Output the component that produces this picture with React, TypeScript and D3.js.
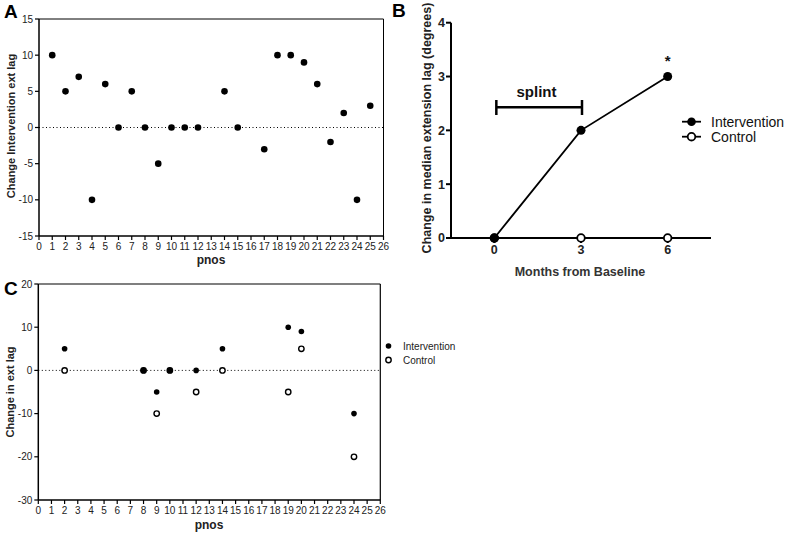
import React from "react";
import * as d3 from "d3";

// Panel A data
const aPnos = [1, 2, 3, 4, 5, 6, 7, 8, 9, 10, 11, 12, 14, 15, 17, 18, 19, 20, 21, 22, 23, 24, 25];
const aChange = [10, 5, 7, -10, 6, 0, 5, 0, -5, 0, 0, 0, 5, 0, -3, 10, 10, 9, 6, -2, 2, -10, 3];
const aYTicks = [-15, -10, -5, 0, 5, 10, 15];
const pnosTicks = d3.range(0, 27);

// Panel B data
const bMonths = [0, 3, 6];
const bIntervention = [0, 2, 3];
const bControl = [0, 0, 0];
const bYTicks = [0, 1, 2, 3, 4];

// Panel C data
const cIntPnos = [2, 8, 9, 10, 12, 14, 19, 20, 24];
const cIntVal = [5, 0, -5, 0, 0, 5, 10, 9, -10];
const cCtlPnos = [2, 8, 9, 10, 12, 14, 19, 20, 24];
const cCtlVal = [0, 0, -10, 0, -5, 0, -5, 5, -20];
const cYTicks = [-30, -20, -10, 0, 10, 20];

const FONT = "Liberation Sans, Arial, sans-serif";

export default function App() {
  // Panel A scales
  const ax = d3.scaleLinear().domain([0, 26]).range([39, 383.5]);
  const ay = d3.scaleLinear().domain([-15, 15]).range([236, 19]);
  // Panel B scales
  const bx = d3.scaleLinear().domain([-1.5, 7.5]).range([451, 711]);
  const by = d3.scaleLinear().domain([0, 4]).range([238, 22.7]);
  // Panel C scales
  const cx = d3.scaleLinear().domain([0, 26]).range([38.3, 380.3]);
  const cy = d3.scaleLinear().domain([-30, 20]).range([500, 284]);

  const bLine = d3
    .line<number>()
    .x((_, i) => bx(bMonths[i]))
    .y((d) => by(d));

  return (
    <svg
      width={788}
      height={533}
      style={{ position: "absolute", left: 0, top: 0, background: "#fff" }}
      fontFamily={FONT}
    >
      <rect x={0} y={0} width={788} height={533} fill="#fff" />

      {/* ---------------- Panel A ---------------- */}
      <text x={4} y={18} fontSize={19} fontWeight="bold">A</text>
      {/* frame */}
      <line x1={ax(0)} x2={ax(26)} y1={ay(15)} y2={ay(15)} stroke="#000" strokeWidth={1} />
      <line x1={ax(26)} x2={ax(26)} y1={ay(15)} y2={ay(-15)} stroke="#000" strokeWidth={1} />
      {/* axes */}
      <line x1={ax(0)} x2={ax(0)} y1={ay(15)} y2={ay(-15)} stroke="#000" strokeWidth={1.5} />
      <line x1={ax(0)} x2={ax(26)} y1={ay(-15)} y2={ay(-15)} stroke="#000" strokeWidth={1.5} />
      {aYTicks.map((t) => (
        <g key={"ay" + t}>
          <line x1={ax(0) - 4} x2={ax(0)} y1={ay(t)} y2={ay(t)} stroke="#000" strokeWidth={1.2} />
          <text x={ax(0) - 6} y={ay(t)} dy="0.35em" fontSize={10} textAnchor="end" fill="#222">
            {t}
          </text>
        </g>
      ))}
      {pnosTicks.map((t) => (
        <g key={"ax" + t}>
          <line x1={ax(t)} x2={ax(t)} y1={ay(-15)} y2={ay(-15) + 4} stroke="#000" strokeWidth={1.2} />
          <text x={ax(t)} y={ay(-15) + 14} fontSize={10} textAnchor="middle" fill="#222">
            {t}
          </text>
        </g>
      ))}
      <line
        x1={ax(0)}
        x2={ax(26)}
        y1={ay(0)}
        y2={ay(0)}
        stroke="#000"
        strokeWidth={1}
        strokeDasharray="1,2.5"
      />
      {aPnos.map((p, i) => (
        <circle key={"ad" + i} cx={ax(p)} cy={ay(aChange[i])} r={3.3} fill="#000" />
      ))}
      <text x={211} y={264} fontSize={12} fontWeight="bold" textAnchor="middle" fill="#222">
        pnos
      </text>
      <text
        transform="translate(15,126) rotate(-90)"
        fontSize={11}
        fontWeight="bold"
        textAnchor="middle"
        fill="#222"
      >
        Change Intervention ext lag
      </text>

      {/* ---------------- Panel B ---------------- */}
      <text x={392} y={17} fontSize={19} fontWeight="bold">B</text>
      <line x1={bx(-1.5)} x2={bx(-1.5)} y1={by(4)} y2={by(0)} stroke="#000" strokeWidth={2} />
      <line x1={bx(-1.5)} x2={bx(7.5)} y1={by(0)} y2={by(0)} stroke="#000" strokeWidth={2} />
      {bYTicks.map((t) => (
        <g key={"by" + t}>
          <line x1={bx(-1.5) - 5} x2={bx(-1.5)} y1={by(t)} y2={by(t)} stroke="#000" strokeWidth={2} />
          <text
            x={bx(-1.5) - 6}
            y={by(t)}
            dy="0.35em"
            fontSize={12.5}
            fontWeight="bold"
            textAnchor="end"
            fill="#222"
          >
            {t}
          </text>
        </g>
      ))}
      {bMonths.map((m) => (
        <g key={"bx" + m}>
          <line x1={bx(m)} x2={bx(m)} y1={by(0)} y2={by(0) + 5} stroke="#000" strokeWidth={2} />
          <text
            x={bx(m)}
            y={by(0) + 16}
            fontSize={12.5}
            fontWeight="bold"
            textAnchor="middle"
            fill="#222"
          >
            {m}
          </text>
        </g>
      ))}
      <path d={bLine(bControl) || ""} fill="none" stroke="#000" strokeWidth={1.8} />
      <path d={bLine(bIntervention) || ""} fill="none" stroke="#000" strokeWidth={1.8} />
      {bControl.map((v, i) => (
        <circle
          key={"bc" + i}
          cx={bx(bMonths[i])}
          cy={by(v)}
          r={3.8}
          fill="#fff"
          stroke="#000"
          strokeWidth={1.8}
        />
      ))}
      {bIntervention.map((v, i) => (
        <circle key={"bi" + i} cx={bx(bMonths[i])} cy={by(v)} r={4.5} fill="#000" />
      ))}
      {/* splint bracket */}
      <line x1={bx(0) + 2} x2={bx(3) + 1} y1={107.3} y2={107.3} stroke="#000" strokeWidth={2.5} />
      <line x1={bx(0) + 2} x2={bx(0) + 2} y1={100} y2={115} stroke="#000" strokeWidth={2.5} />
      <line x1={bx(3) + 1} x2={bx(3) + 1} y1={100} y2={115} stroke="#000" strokeWidth={2.5} />
      <text x={536.5} y={97} fontSize={15} fontWeight="bold" textAnchor="middle" fill="#111">
        splint
      </text>
      <text x={bx(6)} y={66} fontSize={15} fontWeight="bold" textAnchor="middle" fill="#111">
        *
      </text>
      <text x={580} y={276} fontSize={12.5} fontWeight="bold" textAnchor="middle" fill="#333">
        Months from Baseline
      </text>
      <text
        transform="translate(431,128) rotate(-90)"
        fontSize={12.5}
        fontWeight="bold"
        textAnchor="middle"
        fill="#222"
      >
        Change in median extension lag (degrees)
      </text>
      {/* legend B */}
      <line x1={682} x2={701} y1={121.7} y2={121.7} stroke="#000" strokeWidth={1.8} />
      <circle cx={691.5} cy={121.7} r={4.3} fill="#000" />
      <text x={711} y={121.7} dy="0.35em" fontSize={14} fill="#111">Intervention</text>
      <line x1={682} x2={701} y1={136.7} y2={136.7} stroke="#000" strokeWidth={1.8} />
      <circle cx={691.5} cy={136.7} r={3.8} fill="#fff" stroke="#000" strokeWidth={1.8} />
      <text x={711} y={136.7} dy="0.35em" fontSize={14} fill="#111">Control</text>

      {/* ---------------- Panel C ---------------- */}
      <text x={4} y={295} fontSize={19} fontWeight="bold">C</text>
      <line x1={cx(0)} x2={cx(26)} y1={cy(20)} y2={cy(20)} stroke="#000" strokeWidth={1.2} />
      <line x1={cx(26)} x2={cx(26)} y1={cy(20)} y2={cy(-30)} stroke="#000" strokeWidth={1.2} />
      <line x1={cx(0)} x2={cx(0)} y1={cy(20)} y2={cy(-30)} stroke="#000" strokeWidth={1.5} />
      <line x1={cx(0)} x2={cx(26)} y1={cy(-30)} y2={cy(-30)} stroke="#000" strokeWidth={1.5} />
      {cYTicks.map((t) => (
        <g key={"cy" + t}>
          <line x1={cx(0) - 4} x2={cx(0)} y1={cy(t)} y2={cy(t)} stroke="#000" strokeWidth={1.2} />
          <text x={cx(0) - 6} y={cy(t)} dy="0.35em" fontSize={10} textAnchor="end" fill="#222">
            {t}
          </text>
        </g>
      ))}
      {pnosTicks.map((t) => (
        <g key={"cx" + t}>
          <line x1={cx(t)} x2={cx(t)} y1={cy(-30)} y2={cy(-30) + 4} stroke="#000" strokeWidth={1.2} />
          <text x={cx(t)} y={cy(-30) + 14} fontSize={10} textAnchor="middle" fill="#222">
            {t}
          </text>
        </g>
      ))}
      <line
        x1={cx(0)}
        x2={cx(26)}
        y1={cy(0)}
        y2={cy(0)}
        stroke="#000"
        strokeWidth={1}
        strokeDasharray="1,2.5"
      />
      {cCtlPnos.map((p, i) => (
        <circle
          key={"cc" + i}
          cx={cx(p)}
          cy={cy(cCtlVal[i])}
          r={2.7}
          fill="#fff"
          stroke="#000"
          strokeWidth={1.4}
        />
      ))}
      {cIntPnos.map((p, i) => (
        <circle key={"ci" + i} cx={cx(p)} cy={cy(cIntVal[i])} r={2.8} fill="#000" />
      ))}
      <text x={209} y={529} fontSize={12} fontWeight="bold" textAnchor="middle" fill="#222">
        pnos
      </text>
      <text
        transform="translate(14,392) rotate(-90)"
        fontSize={11}
        fontWeight="bold"
        textAnchor="middle"
        fill="#222"
      >
        Change in ext lag
      </text>
      {/* legend C */}
      <circle cx={388.5} cy={346} r={2.8} fill="#000" />
      <text x={403} y={346} dy="0.35em" fontSize={10} fill="#222">Intervention</text>
      <circle cx={388.5} cy={360} r={2.7} fill="#fff" stroke="#000" strokeWidth={1.4} />
      <text x={403} y={360} dy="0.35em" fontSize={10} fill="#222">Control</text>
    </svg>
  );
}
